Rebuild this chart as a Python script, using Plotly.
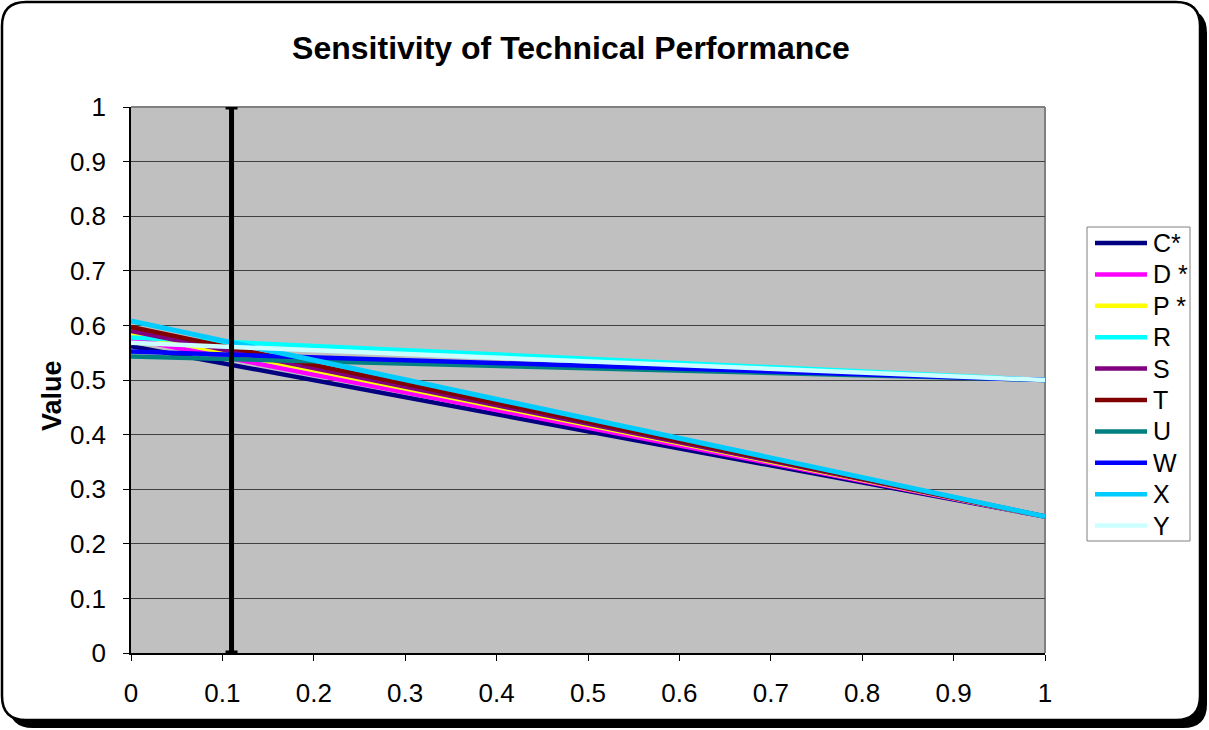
import plotly.graph_objects as go

# ---- data ----
weights = [0, 1]
series_names = ["C*", "D *", "P *", "R", "S", "T", "U", "W", "X", "Y"]
values_at_0 = [0.562, 0.575, 0.585, 0.578, 0.590, 0.597, 0.543, 0.552, 0.608, 0.568]
values_at_1 = [0.25, 0.25, 0.25, 0.50, 0.25, 0.25, 0.50, 0.50, 0.25, 0.50]
series_colors = ["#000080", "#FF00FF", "#FFFF00", "#00FFFF", "#800080",
                 "#800000", "#008080", "#0000FF", "#00CCFF", "#CCFFFF"]
current_weight = 0.11
tick_vals = [0, 0.1, 0.2, 0.3, 0.4, 0.5, 0.6, 0.7, 0.8, 0.9, 1]
tick_text = ["0", "0.1", "0.2", "0.3", "0.4", "0.5", "0.6", "0.7", "0.8", "0.9", "1"]

W, H = 1209, 730
PL, PR, PT, PB = 131, 1045, 107, 653  # plot area in pixels
PW, PH = PR - PL, PB - PT


def fx(px):
    return (px - PL) / PW


def fy(py):
    return (PB - py) / PH


def rrect(x0, y0, x1, y1, r):
    pts = [
        f"M{fx(x0 + r)},{fy(y0)}",
        f"L{fx(x1 - r)},{fy(y0)}",
        f"Q{fx(x1)},{fy(y0)} {fx(x1)},{fy(y0 + r)}",
        f"L{fx(x1)},{fy(y1 - r)}",
        f"Q{fx(x1)},{fy(y1)} {fx(x1 - r)},{fy(y1)}",
        f"L{fx(x0 + r)},{fy(y1)}",
        f"Q{fx(x0)},{fy(y1)} {fx(x0)},{fy(y1 - r)}",
        f"L{fx(x0)},{fy(y0 + r)}",
        f"Q{fx(x0)},{fy(y0)} {fx(x0 + r)},{fy(y0)}",
        "Z",
    ]
    return " ".join(pts)


FONT = "Liberation Sans, Arial, sans-serif"

fig = go.Figure()

for name, v0, v1, col in zip(series_names, values_at_0, values_at_1, series_colors):
    fig.add_trace(go.Scatter(
        x=weights, y=[v0, v1], mode="lines", name=name, showlegend=False,
        line=dict(color=col, width=5 if name == "X" else 4.5),
    ))

# current weight marker (I-beam)
fig.add_trace(go.Scatter(
    x=[current_weight], y=[0.5], mode="markers", showlegend=False,
    marker=dict(size=1, color="rgba(0,0,0,0)"),
    error_y=dict(type="data", array=[0.5], symmetric=True, color="black",
                 thickness=5, width=6),
    hoverinfo="skip",
))

shapes = [
    dict(type="path", xref="paper", yref="paper", path=rrect(9, 9, 1207, 728, 24),
         fillcolor="black", line=dict(width=0), layer="below"),
    dict(type="path", xref="paper", yref="paper", path=rrect(2, 2, 1200, 720, 24),
         fillcolor="white", line=dict(color="black", width=2.5), layer="below"),
    dict(type="rect", xref="paper", yref="paper", x0=0, x1=1, y0=0, y1=1,
         fillcolor="#C0C0C0", line=dict(width=0), layer="below"),
    dict(type="line", xref="paper", yref="paper", x0=0, x1=1, y0=1, y1=1,
         line=dict(color="#808080", width=2), layer="below"),
    dict(type="line", xref="paper", yref="paper", x0=1, x1=1, y0=0, y1=1,
         line=dict(color="#808080", width=2), layer="below"),
]

annotations = [dict(text="<b>Value</b>", xref="paper", yref="paper",
                    x=fx(52), y=fy(396), textangle=-90, showarrow=False,
                    xanchor="center", yanchor="middle",
                    font=dict(size=27, family=FONT, color="black"))]

# legend (drawn as shapes + text)
LX0, LX1, LY0, LY1 = 1087, 1190, 227, 541
shapes.append(dict(type="rect", xref="paper", yref="paper",
                   x0=fx(LX0), x1=fx(LX1), y0=fy(LY1), y1=fy(LY0),
                   fillcolor="white", line=dict(color="#808080", width=1),
                   layer="above"))
for i, (name, col) in enumerate(zip(series_names, series_colors)):
    yy = 243 + i * 31.4
    shapes.append(dict(type="line", xref="paper", yref="paper",
                       x0=fx(1095), x1=fx(1147), y0=fy(yy), y1=fy(yy),
                       line=dict(color=col, width=4.5), layer="above"))
    annotations.append(dict(text=name, xref="paper", yref="paper",
                            x=fx(1151), y=fy(yy), xanchor="left", yanchor="middle",
                            showarrow=False,
                            font=dict(size=25, family=FONT, color="black")))

fig.update_layout(
    width=W, height=H,
    margin=dict(l=PL, r=W - PR, t=PT, b=H - PB, pad=0),
    paper_bgcolor="white",
    plot_bgcolor="rgba(0,0,0,0)",
    font=dict(family=FONT, color="black"),
    title=dict(text="<b>Sensitivity of Technical Performance</b>",
               font=dict(size=32, family=FONT, color="black"),
               xref="paper", x=fx(571), xanchor="center",
               yref="container", y=1 - 48 / H, yanchor="middle"),
    xaxis=dict(range=[0, 1], tickvals=tick_vals, ticktext=tick_text,
               showgrid=False, zeroline=False, showline=True,
               linecolor="black", linewidth=1.5,
               ticks="outside", ticklen=6, tickcolor="black",
               ticklabelstandoff=10,
               tickfont=dict(size=26, family=FONT, color="black")),
    yaxis=dict(range=[0, 1], tickvals=tick_vals, ticktext=tick_text,
               showgrid=True, gridcolor="#404040", gridwidth=1,
               zeroline=False, showline=True,
               linecolor="black", linewidth=1.5,
               ticks="outside", ticklen=6, tickcolor="black",
               ticklabelstandoff=12,
               tickfont=dict(size=26, family=FONT, color="black")),
    shapes=shapes,
    annotations=annotations,
    showlegend=False,
)

fig.write_html("out.html", config={"displayModeBar": False},
               post_script="document.body.style.margin='0';")
